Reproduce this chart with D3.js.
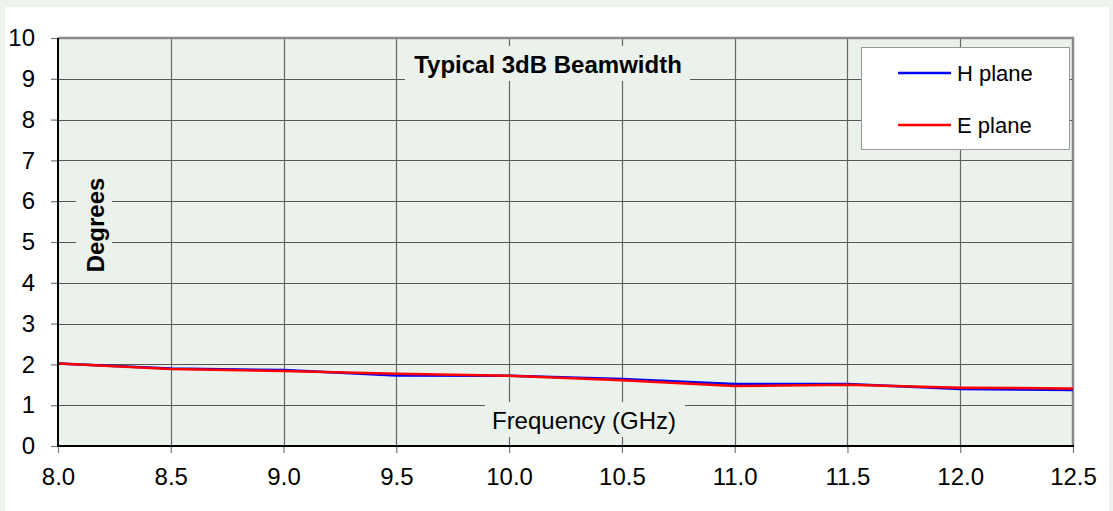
<!DOCTYPE html>
<html><head><meta charset="utf-8">
<script src="https://cdn.jsdelivr.net/npm/d3@7"></script>
<style>html,body{margin:0;padding:0;background:#eef3ee;}svg{display:block;}text{font-family:"Liberation Sans",Arial,sans-serif;}</style>
</head><body>
<svg id="c" width="1113" height="511"></svg>
<script>
const freq = [8.0, 8.5, 9.0, 9.5, 10.0, 10.5, 11.0, 11.5, 12.0, 12.5];
const hPlane = [2.02, 1.90, 1.86, 1.73, 1.72, 1.64, 1.52, 1.52, 1.40, 1.37];
const ePlane = [2.02, 1.89, 1.84, 1.77, 1.72, 1.61, 1.47, 1.50, 1.43, 1.41];
const xTicks = [8.0, 8.5, 9.0, 9.5, 10.0, 10.5, 11.0, 11.5, 12.0, 12.5];
const yTicks = [0,1,2,3,4,5,6,7,8,9,10];
const seriesNames = ["H plane", "E plane"];
const seriesColors = ["#0000ff", "#ff0000"];

const svg = d3.select("#c");
const L=58, R=1073, T=38, B=446;
const bg="#ebf2eb";
svg.append("rect").attr("x",5).attr("y",7).attr("width",1104).attr("height",510).attr("fill","#fff");
const x = d3.scaleLinear().domain([8,12.5]).range([L,R]);
const y = d3.scaleLinear().domain([0,10]).range([B,T]);

svg.append("rect").attr("x",L).attr("y",T).attr("width",R-L).attr("height",B-T).attr("fill",bg);
// gridlines
const g = svg.append("g");
g.selectAll("line.h").data(yTicks.slice(1,-1)).join("line")
 .attr("x1",L).attr("x2",R).attr("y1",d=>Math.round(y(d))+0.5).attr("y2",d=>Math.round(y(d))+0.5)
 .attr("stroke","#555").attr("stroke-width",1);
g.selectAll("line.v").data(xTicks.slice(1,-1)).join("line")
 .attr("y1",T).attr("y2",B).attr("x1",d=>Math.round(x(d))+0.5).attr("x2",d=>Math.round(x(d))+0.5)
 .attr("stroke","#666").attr("stroke-width",1.2);
// top/right frame
svg.append("path").attr("d",`M${L},${T} H${R} V${B}`).attr("fill","none").attr("stroke","#8a8a8a").attr("stroke-width",2.5);

// axis label boxes (hide gridlines)
svg.append("rect").attr("x",405).attr("y",46).attr("width",285).attr("height",35).attr("fill",bg);
svg.append("rect").attr("x",485).attr("y",402).attr("width",200).attr("height",35).attr("fill",bg);
svg.append("rect").attr("x",76).attr("y",170).attr("width",36).attr("height",108).attr("fill",bg);

// lines
const line = d3.line().x((d,i)=>x(freq[i])).y(d=>y(d));
[hPlane, ePlane].forEach((s,k)=>{
  svg.append("path").datum(s).attr("d",line).attr("fill","none")
   .attr("stroke",seriesColors[k]).attr("stroke-width",2.5);
});

// axes
const yAxis = d3.axisLeft(y).tickValues(yTicks).tickSize(7).tickPadding(16).tickFormat(d3.format("d"));
const ya = svg.append("g").attr("transform",`translate(${L},0)`).call(yAxis);
ya.select(".domain").remove();
const xAxis = d3.axisBottom(x).tickValues(xTicks).tickSize(7).tickPadding(15).tickFormat(d3.format(".1f"));
const xa = svg.append("g").attr("transform",`translate(0,${B})`).call(xAxis);
xa.select(".domain").remove();
[ya,xa].forEach(a=>{
  a.selectAll(".tick line").attr("stroke","#777").attr("stroke-width",1.2);
  a.selectAll(".tick text").attr("font-size",24).attr("fill","#000").attr("font-family","'Liberation Sans',Arial,sans-serif");
});
svg.append("line").attr("x1",L).attr("x2",L).attr("y1",T).attr("y2",B+1).attr("stroke","#000").attr("stroke-width",2);
svg.append("line").attr("x1",L-1).attr("x2",R+1).attr("y1",B).attr("y2",B).attr("stroke","#000").attr("stroke-width",2);

// labels
svg.append("text").attr("x",548).attr("y",73).attr("text-anchor","middle").attr("font-size",24).attr("font-weight","bold").text("Typical 3dB Beamwidth");
svg.append("text").attr("x",584).attr("y",429).attr("text-anchor","middle").attr("font-size",24).text("Frequency (GHz)");
svg.append("text").attr("transform","translate(104,225) rotate(-90)").attr("text-anchor","middle").attr("font-size",24).attr("font-weight","bold").text("Degrees");

// legend
const lg = svg.append("g");
lg.append("rect").attr("x",861.5).attr("y",47.5).attr("width",208).attr("height",102).attr("fill","#fff").attr("stroke","#999").attr("stroke-width",1);
seriesNames.forEach((n,k)=>{
  const yy = 73 + k*52;
  lg.append("line").attr("x1",898).attr("x2",951).attr("y1",yy).attr("y2",yy).attr("stroke",seriesColors[k]).attr("stroke-width",2.5);
  lg.append("text").attr("x",957).attr("y",yy+8).attr("font-size",22).text(n);
});
</script>
</body></html>
